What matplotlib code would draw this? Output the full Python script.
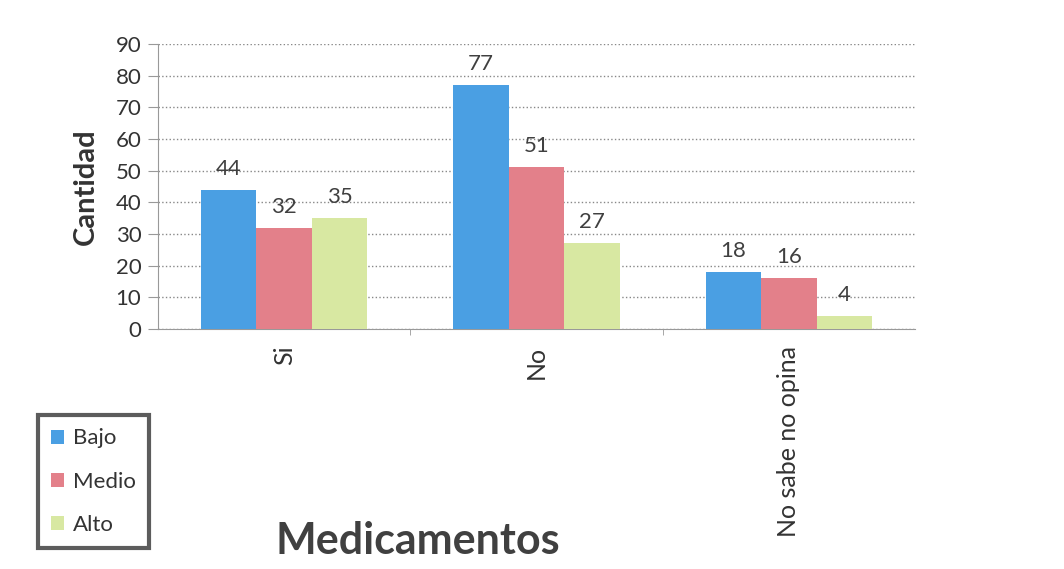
import matplotlib.pyplot as plt
import numpy as np

categories = ["Si", "No", "No sabe no opina"]
series_names = ["Bajo", "Medio", "Alto"]
bajo = [44, 77, 18]
medio = [32, 51, 16]
alto = [35, 27, 4]
y_ticks = [0, 10, 20, 30, 40, 50, 60, 70, 80, 90]

colors = ["#4a9fe3", "#e3808a", "#d8e8a2"]

plt.rcParams["font.family"] = ["Lato", "DejaVu Sans"]

fig = plt.figure(figsize=(10.64, 5.69), dpi=100)
ax = fig.add_axes([0.1485, 0.4218, 0.7115, 0.501])

x = np.arange(len(categories))
width = 0.22
for i, (vals, name) in enumerate(zip([bajo, medio, alto], series_names)):
    pos = x + (i - 1) * width
    ax.bar(pos, vals, width, color=colors[i], label=name, zorder=3)
    for p, v in zip(pos, vals):
        ax.annotate(str(v), (p, v), xytext=(0, 8), textcoords="offset points",
                    ha="center", va="bottom", fontsize=16, color="#404040")

ax.set_xlim(-0.5, len(categories) - 0.5)
ax.set_ylim(0, 90)
ax.set_yticks(y_ticks)
ax.tick_params(axis="y", labelsize=16, labelcolor="#333333", length=7, pad=5, color="#999999")
ax.yaxis.grid(True, linestyle=":", color="#888888", linewidth=1, zorder=0)
ax.set_xticks(x)
ax.set_xticklabels(categories, rotation=90, fontsize=18, color="#333333")
ax.tick_params(axis="x", length=0, pad=12)
ax.set_xticks([0.5, 1.5], minor=True)
ax.tick_params(axis="x", which="minor", length=4, color="#999999")
for side in ["top", "right"]:
    ax.spines[side].set_visible(False)
for side in ["left", "bottom"]:
    ax.spines[side].set_color("#999999")
ax.set_ylabel("Cantidad", fontsize=21, fontweight="bold", color="#333333", labelpad=12)

leg = fig.legend(loc="upper left", bbox_to_anchor=(0.025, 0.29), fontsize=16,
                 frameon=True, fancybox=False, handlelength=0.6, handleheight=0.6,
                 labelspacing=1.05, handletextpad=0.4, borderpad=0.6)
leg.get_frame().set_edgecolor("#333333")
leg.get_frame().set_linewidth(3)
for t in leg.get_texts():
    t.set_color("#333333")

fig.text(0.393, 0.05, "Medicamentos", fontsize=31, fontweight="bold",
         color="#404040", ha="center", va="center")

fig.savefig("out.png", dpi=100)
